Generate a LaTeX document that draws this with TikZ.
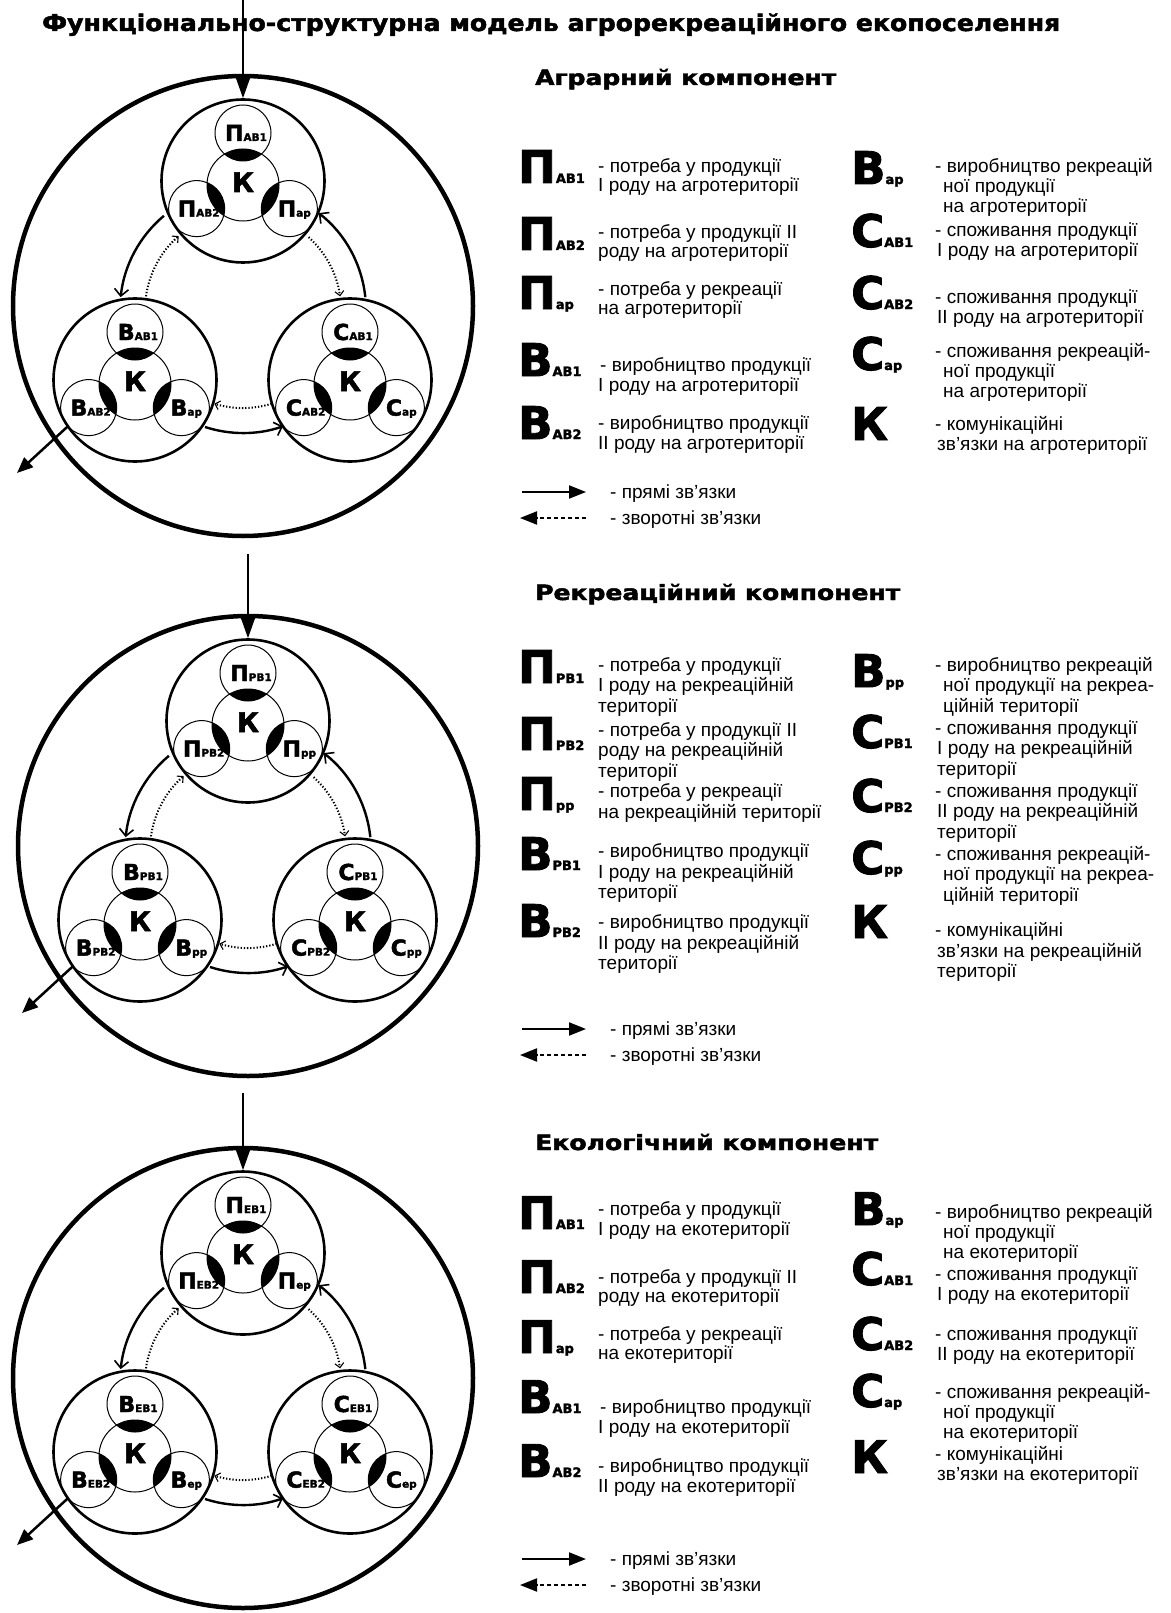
\documentclass[tikz,border=0pt]{standalone}
\usepackage{fontspec}
\setmainfont{Liberation Sans}
\newfontfamily\hv{DejaVu Sans}[FakeBold=2]
\usepackage{graphicx}
\usetikzlibrary{arrows.meta,calc}

\newcounter{nn}
\newcommand{\dlab}[2]{{\fontsize{22}{22}\selectfont #1}{\fontsize{10.5}{10}\selectfont #2}}
\newcommand{\blab}[2]{{\fontsize{45}{45}\selectfont #1}{\fontsize{13}{13}\selectfont #2}}

\tikzset{
 outerc/.style={circle, draw, line width=4.5pt, minimum size=460pt, inner sep=0pt},
 subc/.style={circle, draw, line width=2.6pt, minimum size=163pt, inner sep=0pt},
 kc/.style={circle, draw, line width=1pt, minimum size=72pt, inner sep=0pt},
 smc/.style={circle, draw, line width=1pt, minimum size=56pt, inner sep=0pt},
 lbl/.style={inner sep=0pt, anchor=base, font=\hv\bfseries},
 solidarc/.style={line width=2.4pt, -{Straight Barb[length=7pt,width=14pt,line width=1.6pt]}},
 dotarc/.style={line width=2pt, dash pattern=on 1.3pt off 1.9pt, -{Straight Barb[length=4.5pt,width=9pt,line width=1.1pt]}},
 inarrow/.style={line width=2pt, -{Triangle[length=22pt,width=15pt]}},
 outarrow/.style={line width=2.5pt, -{Triangle[length=16pt,width=13pt]}},
 lgt/.style={inner sep=0pt, anchor=base west, font=\fontsize{19}{20}\selectfont},
 bigl/.style={inner sep=0pt, anchor=base west, font=\hv\bfseries},
 lgsolid/.style={line width=2pt, -{Triangle[length=17pt,width=13pt]}},
 lgdash/.style={line width=2pt, dash pattern=on 4pt off 3pt, -{Triangle[length=17pt,width=13pt]}},
 hd/.style={inner sep=0pt, anchor=base west, font=\hv\bfseries},
}

\newcommand{\subunit}[7]{%
 \node[subc] (#1) at (#2,#3) {};
 \coordinate (#1k) at (#2,#3+4);
 \coordinate (#1t) at ($(#1k)+(90:52pt)$);
 \coordinate (#1l) at ($(#1k)+(207:52pt)$);
 \coordinate (#1r) at ($(#1k)+(333:52pt)$);
 \begin{scope}
  \clip (#1k) circle[radius=36pt];
  \fill (#1t) circle[radius=28pt];
  \fill (#1l) circle[radius=28pt];
  \fill (#1r) circle[radius=28pt];
 \end{scope}
 \node[kc] (#1K) at (#1k) {};
 \node[smc] (#1T) at (#1t) {};
 \node[smc] (#1L) at (#1l) {};
 \node[smc] (#1R) at (#1r) {};
 \node[lbl] (#1Kx) at ($(#1k)+(0,7)$) {\fontsize{27}{27}\selectfont К};
 \node[lbl] (#1Tx) at ($(#1t)+(3,8)$) {\dlab{#4}{#5}};
 \node[lbl] (#1Lx) at ($(#1l)+(2,8)$) {\dlab{#4}{#6}};
 \node[lbl] (#1Rx) at ($(#1r)+(5,8)$) {\dlab{#4}{#7}};
}

\newcommand{\ecounit}[7]{%
 \begin{scope}[shift={(#2,#3)}]
  \node[outerc] (#1O) at (243,306) {};
  \coordinate (#1ring) at (243,310);
  \subunit{#1P}{243}{181}{П}{#5}{#6}{#7}
  \subunit{#1B}{135}{380}{В}{#5}{#6}{#7}
  \subunit{#1C}{350}{380}{С}{#5}{#6}{#7}
  \coordinate (#1in) at (243,#4);
  \draw[inarrow] (#1in) -- (#1P.north);
  \coordinate (#1out) at (17,473);
  \draw[outarrow] (#1BL.222) -- (#1out);
  \coordinate (#1s1) at ($(#1ring)+(130:123pt)$);
  \coordinate (#1s2) at ($(#1ring)+(252:123pt)$);
  \coordinate (#1s3) at ($(#1ring)+(6:123pt)$);
  \coordinate (#1d1) at ($(#1ring)+(172:98pt)$);
  \coordinate (#1d2) at ($(#1ring)+(48:98pt)$);
  \coordinate (#1d3) at ($(#1ring)+(287:98pt)$);
  \draw[solidarc] (#1s1) arc[start angle=130,end angle=174,radius=123pt];
  \draw[solidarc] (#1s2) arc[start angle=252,end angle=289,radius=123pt];
  \draw[solidarc] (#1s3) arc[start angle=6,end angle=52,radius=123pt];
  \draw[dotarc] (#1d1) arc[start angle=172,end angle=131,radius=98pt];
  \draw[dotarc] (#1d2) arc[start angle=48,end angle=8,radius=98pt];
  \draw[dotarc] (#1d3) arc[start angle=287,end angle=253,radius=98pt];
 \end{scope}}

\newcommand{\LL}[3]{\stepcounter{nn}\node[lgt] (t\thenn) at (#1,#2) {#3};}
\newcommand{\LB}[4]{\stepcounter{nn}\node[bigl] (b\thenn) at (#1,#2+3) {\blab{#3}{#4}};}
\newcommand{\LA}[3]{%
 \coordinate (#3a) at (522,#1); \coordinate (#3b) at (586,#1);
 \draw[lgsolid] (#3a) -- (#3b);
 \coordinate (#3c) at (586,#2); \coordinate (#3d) at (520,#2);
 \draw[lgdash] (#3c) -- (#3d);
 \LL{610}{#1+6}{- прямі зв’язки}
 \LL{610}{#2+6}{- зворотні зв’язки}}

\begin{document}
\begin{tikzpicture}[x=1pt,y=-1pt]
\useasboundingbox (0,0) rectangle (1170,1613);
\fill[white] (0,0) rectangle (1170,1613);

\node[hd] (title) at (42,31) {\resizebox{1018pt}{\height}{\fontsize{23}{23}\selectfont Функціонально-структурна модель агрорекреаційного екопоселення}};
\node[hd] (h1) at (535,85) {\resizebox{301pt}{\height}{\fontsize{21}{21}\selectfont Аграрний компонент}};
\node[hd] (h2) at (535,600) {\resizebox{365pt}{\height}{\fontsize{21}{21}\selectfont Рекреаційний компонент}};
\node[hd] (h3) at (535,1150) {\resizebox{343pt}{\height}{\fontsize{21}{21}\selectfont Екологічний компонент}};

\ecounit{a}{0}{0}{0}{АВ1}{АВ2}{ар}
\ecounit{b}{5}{540}{14}{РВ1}{РВ2}{рр}
\ecounit{c}{0}{1072}{21}{ЕВ1}{ЕВ2}{ер}

% ---------- legend 1
\LB{518}{180}{П}{АВ1} \LL{598}{173}{- потреба у продукції} \LL{598}{192}{І роду на агротериторії}
\LB{518}{247}{П}{АВ2} \LL{598}{239}{- потреба у продукції ІІ} \LL{598}{258}{роду на агротериторії}
\LB{518}{306}{П}{ар} \LL{598}{295}{- потреба у рекреації} \LL{598}{314}{на агротериторії}
\LB{518}{373}{В}{АВ1} \LL{600}{371}{- виробництво продукції} \LL{598}{391}{І роду на агротериторії}
\LB{518}{436}{В}{АВ2} \LL{598}{429}{- виробництво продукції} \LL{598}{449}{ІІ роду на агротериторії}
\LB{851}{181}{В}{ар} \LL{935}{173}{- виробництво рекреацій} \LL{943}{193}{ної продукції} \LL{943}{213}{на агротериторії}
\LB{851}{244}{С}{АВ1} \LL{935}{237}{- споживання продукції} \LL{937}{257}{І роду на агротериторії}
\LB{851}{306}{С}{АВ2} \LL{935}{303}{- споживання продукції} \LL{937}{323}{ІІ роду на агротериторії}
\LB{851}{367}{С}{ар} \LL{935}{357}{- споживання рекреацій-} \LL{943}{377}{ної продукції} \LL{943}{397}{на агротериторії}
\LB{851}{437}{К}{} \LL{935}{430}{- комунікаційні} \LL{937}{450}{зв’язки на агротериторії}
\LA{492}{518}{la}

% ---------- legend 2
\LB{518}{680}{П}{РВ1} \LL{598}{671}{- потреба у продукції} \LL{598}{691}{І роду на рекреаційній} \LL{598}{712}{території}
\LB{518}{747}{П}{РВ2} \LL{598}{736}{- потреба у продукції ІІ} \LL{598}{756}{роду на рекреаційній} \LL{598}{777}{території}
\LB{518}{807}{П}{рр} \LL{598}{797}{- потреба у рекреації} \LL{598}{818}{на рекреаційній території}
\LB{518}{867}{В}{РВ1} \LL{598}{857}{- виробництво продукції} \LL{598}{878}{І роду на рекреаційній} \LL{598}{898}{території}
\LB{518}{934}{В}{РВ2} \LL{598}{928}{- виробництво продукції} \LL{598}{949}{ІІ роду на рекреаційній} \LL{598}{969}{території}
\LB{851}{684}{В}{рр} \LL{935}{671}{- виробництво рекреацій} \LL{943}{691}{ної продукції на рекреа-} \LL{943}{712}{ційній території}
\LB{851}{745}{С}{РВ1} \LL{935}{734}{- споживання продукції} \LL{937}{754}{І роду на рекреаційній} \LL{937}{775}{території}
\LB{851}{809}{С}{РВ2} \LL{935}{797}{- споживання продукції} \LL{937}{817}{ІІ роду на рекреаційній} \LL{937}{838}{території}
\LB{851}{871}{С}{рр} \LL{935}{860}{- споживання рекреацій-} \LL{943}{880}{ної продукції на рекреа-} \LL{943}{901}{ційній території}
\LB{851}{935}{К}{} \LL{935}{936}{- комунікаційні} \LL{937}{957}{зв’язки на рекреаційній} \LL{937}{977}{території}
\LA{1029}{1055}{lb}

% ---------- legend 3
\LB{518}{1226}{П}{АВ1} \LL{598}{1215}{- потреба у продукції} \LL{598}{1235}{І роду на екотериторії}
\LB{518}{1290}{П}{АВ2} \LL{598}{1283}{- потреба у продукції ІІ} \LL{598}{1302}{роду на екотериторії}
\LB{518}{1350}{П}{ар} \LL{598}{1340}{- потреба у рекреації} \LL{598}{1359}{на екотериторії}
\LB{518}{1410}{В}{АВ1} \LL{600}{1413}{- виробництво продукції} \LL{598}{1433}{І роду на екотериторії}
\LB{518}{1474}{В}{АВ2} \LL{598}{1472}{- виробництво продукції} \LL{598}{1492}{ІІ роду на екотериторії}
\LB{851}{1222}{В}{ар} \LL{935}{1218}{- виробництво рекреацій} \LL{943}{1238}{ної продукції} \LL{943}{1258}{на екотериторії}
\LB{851}{1282}{С}{АВ1} \LL{935}{1280}{- споживання продукції} \LL{937}{1300}{І роду на екотериторії}
\LB{851}{1347}{С}{АВ2} \LL{935}{1340}{- споживання продукції} \LL{937}{1360}{ІІ роду на екотериторії}
\LB{851}{1404}{С}{ар} \LL{935}{1398}{- споживання рекреацій-} \LL{943}{1418}{ної продукції} \LL{943}{1438}{на екотериторії}
\LB{851}{1470}{К}{} \LL{935}{1460}{- комунікаційні} \LL{937}{1480}{зв’язки на екотериторії}
\LA{1559}{1585}{lc}
\end{tikzpicture}
\end{document}
